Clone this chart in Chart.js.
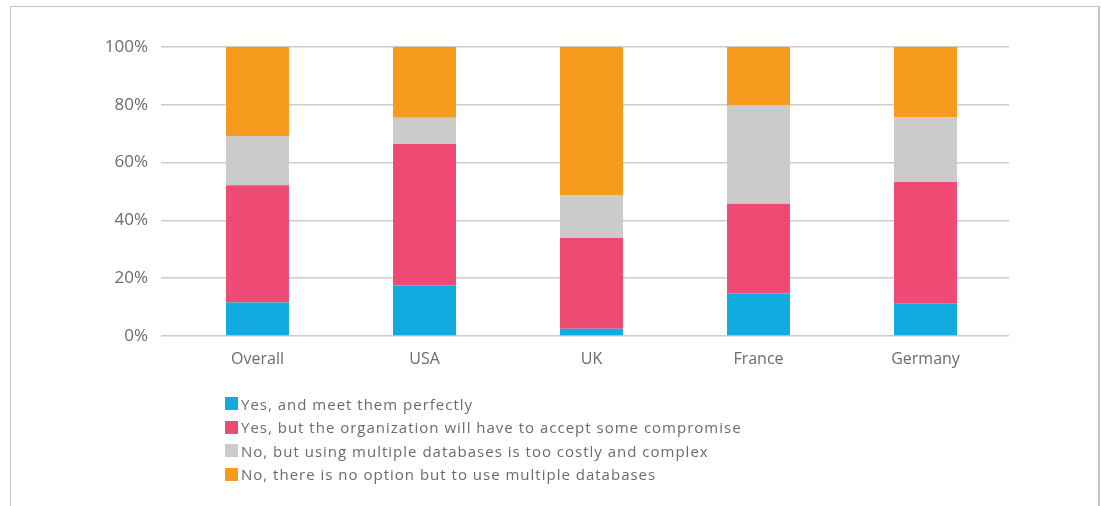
<!DOCTYPE html>
<html>
<head>
<meta charset="utf-8">
<script src="https://cdn.jsdelivr.net/npm/chart.js@4/dist/chart.umd.min.js"></script>
<style>
  html, body { margin: 0; padding: 0; background: #fff; }
  #wrap { position: relative; width: 1101px; height: 506px; overflow: hidden; }
  #frame { position: absolute; left: 10px; top: 6px; width: 1087px; height: 540px;
           border: 1px solid #c4c4c4; border-right-width: 2px; border-bottom: none; }
  canvas { position: absolute; left: 0; top: 0; }
  #legend { position: absolute; left: 225px; top: 392px; font-family: "Open Sans", sans-serif;
            font-size: 15px; letter-spacing: 1px; color: #6b6b6b; }
  #legend .item { display: flex; align-items: center; height: 23.5px; }
  #legend .box { width: 13px; height: 13px; margin-right: 3px; flex: none; }
</style>
</head>
<body>
<div id="wrap">
  <div id="frame"></div>
  <canvas id="c" width="1101" height="506"></canvas>
  <div id="legend"></div>
</div>
<script>
const categories = ["Overall", "USA", "UK", "France", "Germany"];
const seriesNames = [
  "Yes, and meet them perfectly",
  "Yes, but the organization will have to accept some compromise",
  "No, but using multiple databases is too costly and complex",
  "No, there is no option but to use multiple databases"
];
const meetPerfectly   = [11.6, 17.5, 2.5, 14.7, 11.3];
const withCompromise  = [40.6, 48.9, 31.4, 31.1, 42.0];
const tooCostly       = [17.0, 9.1, 14.7, 34.1, 22.4];
const noOption        = [30.8, 24.5, 51.4, 20.1, 24.3];
const yTicks = [0, 20, 40, 60, 80, 100];
const colors = ["#12abdf", "#ee4a74", "#cbcbcb", "#f79b1f"];

const seriesValues = [meetPerfectly, withCompromise, tooCostly, noOption];

const datasets = seriesValues.map((vals, i) => ({
  label: seriesNames[i],
  data: vals,
  backgroundColor: colors[i],
  borderWidth: 0,
  categoryPercentage: 1,
  barPercentage: 0.377
}));

const chart = new Chart(document.getElementById("c"), {
  type: "bar",
  data: { labels: categories, datasets },
  options: {
    responsive: false,
    animation: false,
    layout: { padding: { left: 0, right: 92, top: 47, bottom: 0 } },
    plugins: { legend: { display: false }, tooltip: { enabled: false } },
    scales: {
      x: {
        stacked: true,
        grid: { display: false, drawTicks: false },
        border: { display: false },
        ticks: { color: "#6b6b6b", padding: 14, font: { family: "Open Sans", size: 16 } },
        afterFit: s => { s.height = 170; }
      },
      y: {
        stacked: true,
        min: 0, max: 100,
        afterBuildTicks: s => { s.ticks = yTicks.map(v => ({ value: v })); },
        grid: { color: "#cccccc", lineWidth: 1.5, tickLength: 13, drawTicks: true },
        border: { display: false },
        ticks: { color: "#6b6b6b", padding: 13, font: { family: "Open Sans", size: 17 },
                 callback: v => v + "%" },
        afterFit: s => { s.width = 174; }
      }
    }
  }
});

// legend listed vertically under the plot
const legendEl = document.getElementById("legend");
chart.data.datasets.forEach(ds => {
  const row = document.createElement("div");
  row.className = "item";
  const box = document.createElement("span");
  box.className = "box";
  box.style.background = ds.backgroundColor;
  const txt = document.createElement("span");
  txt.textContent = ds.label;
  row.appendChild(box);
  row.appendChild(txt);
  legendEl.appendChild(row);
});
</script>
</body>
</html>
